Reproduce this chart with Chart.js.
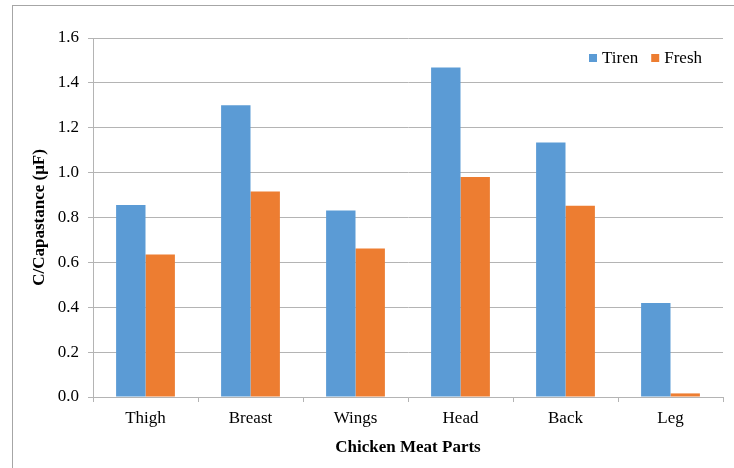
<!DOCTYPE html>
<html>
<head>
<meta charset="utf-8">
<script src="https://cdn.jsdelivr.net/npm/chart.js@4"></script>
<style>
  body { margin: 0; background: #fff; }
  #wrap { position: relative; width: 734px; height: 468px; overflow: hidden; }
  #frame { position: absolute; left: 12px; top: 5px; width: 800px; height: 600px; border: 1px solid #a6a6a6; }
  canvas { position: absolute; left: 0; top: 0; }
</style>
</head>
<body>
<div id="wrap">
  <div id="frame"></div>
  <canvas id="myChart" width="734" height="468"></canvas>
</div>
<script>
const parts = ['Thigh', 'Breast', 'Wings', 'Head', 'Back', 'Leg'];
const tiren = [0.856, 1.300, 0.831, 1.468, 1.134, 0.419];
const fresh = [0.635, 0.916, 0.662, 0.980, 0.852, 0.016];

const serif = '"Liberation Serif", "Times New Roman", Times, serif';
const gridGray = '#b4b4b4';
Chart.defaults.font.family = serif;

// legend drawn inside the plot area, top right, like the original
const insideLegend = {
    id: 'insideLegend',
    afterDraw(chart) {
        const c = chart.ctx;
        const area = chart.chartArea;
        c.save();
        c.font = '17px ' + serif;
        c.textBaseline = 'middle';
        let x = area.right - 134;
        const y = area.top + 20;
        chart.data.datasets.forEach(ds => {
            c.fillStyle = ds.backgroundColor;
            c.fillRect(x, y - 4, 8, 8);
            x += 13;
            c.fillStyle = '#000';
            c.fillText(ds.label, x, y + 1);
            x += c.measureText(ds.label).width + 13;
        });
        c.restore();
    }
};

const ctx = document.getElementById('myChart').getContext('2d');
new Chart(ctx, {
    type: 'bar',
    data: {
        labels: parts,
        datasets: [
            {
                label: 'Tiren',
                data: tiren,
                backgroundColor: '#5b9bd5',
                categoryPercentage: 0.56,
                barPercentage: 1.0
            },
            {
                label: 'Fresh',
                data: fresh,
                backgroundColor: '#ed7d31',
                categoryPercentage: 0.56,
                barPercentage: 1.0
            }
        ]
    },
    plugins: [insideLegend],
    options: {
        responsive: false,
        animation: false,
        layout: { padding: { left: 14, top: 38, right: 11, bottom: 0 } },
        plugins: {
            legend: { display: false },
            tooltip: { enabled: false }
        },
        scales: {
            x: {
                afterFit: s => { s.height = 71; },
                grid: {
                    drawOnChartArea: false,
                    tickLength: 5,
                    tickColor: gridGray
                },
                border: { color: gridGray, width: 1 },
                ticks: {
                    color: '#000',
                    padding: 6,
                    font: { family: serif, size: 17 }
                },
                title: {
                    display: true,
                    text: 'Chicken Meat Parts',
                    color: '#000',
                    padding: { bottom: 10 },
                    font: { family: serif, size: 17, weight: 'bold' }
                }
            },
            y: {
                min: 0,
                max: 1.6,
                afterFit: s => { s.width = 79; },
                grid: {
                    color: gridGray,
                    tickLength: 5,
                    tickColor: gridGray
                },
                border: { color: gridGray, width: 1 },
                ticks: {
                    stepSize: 0.2,
                    color: '#000',
                    padding: 9,
                    font: { family: serif, size: 17 },
                    callback: v => v.toFixed(1)
                },
                title: {
                    display: true,
                    text: 'C/Capastance (μF)',
                    color: '#000',
                    padding: { top: 15 },
                    font: { family: serif, size: 17, weight: 'bold' }
                }
            }
        }
    }
});
</script>
</body>
</html>
